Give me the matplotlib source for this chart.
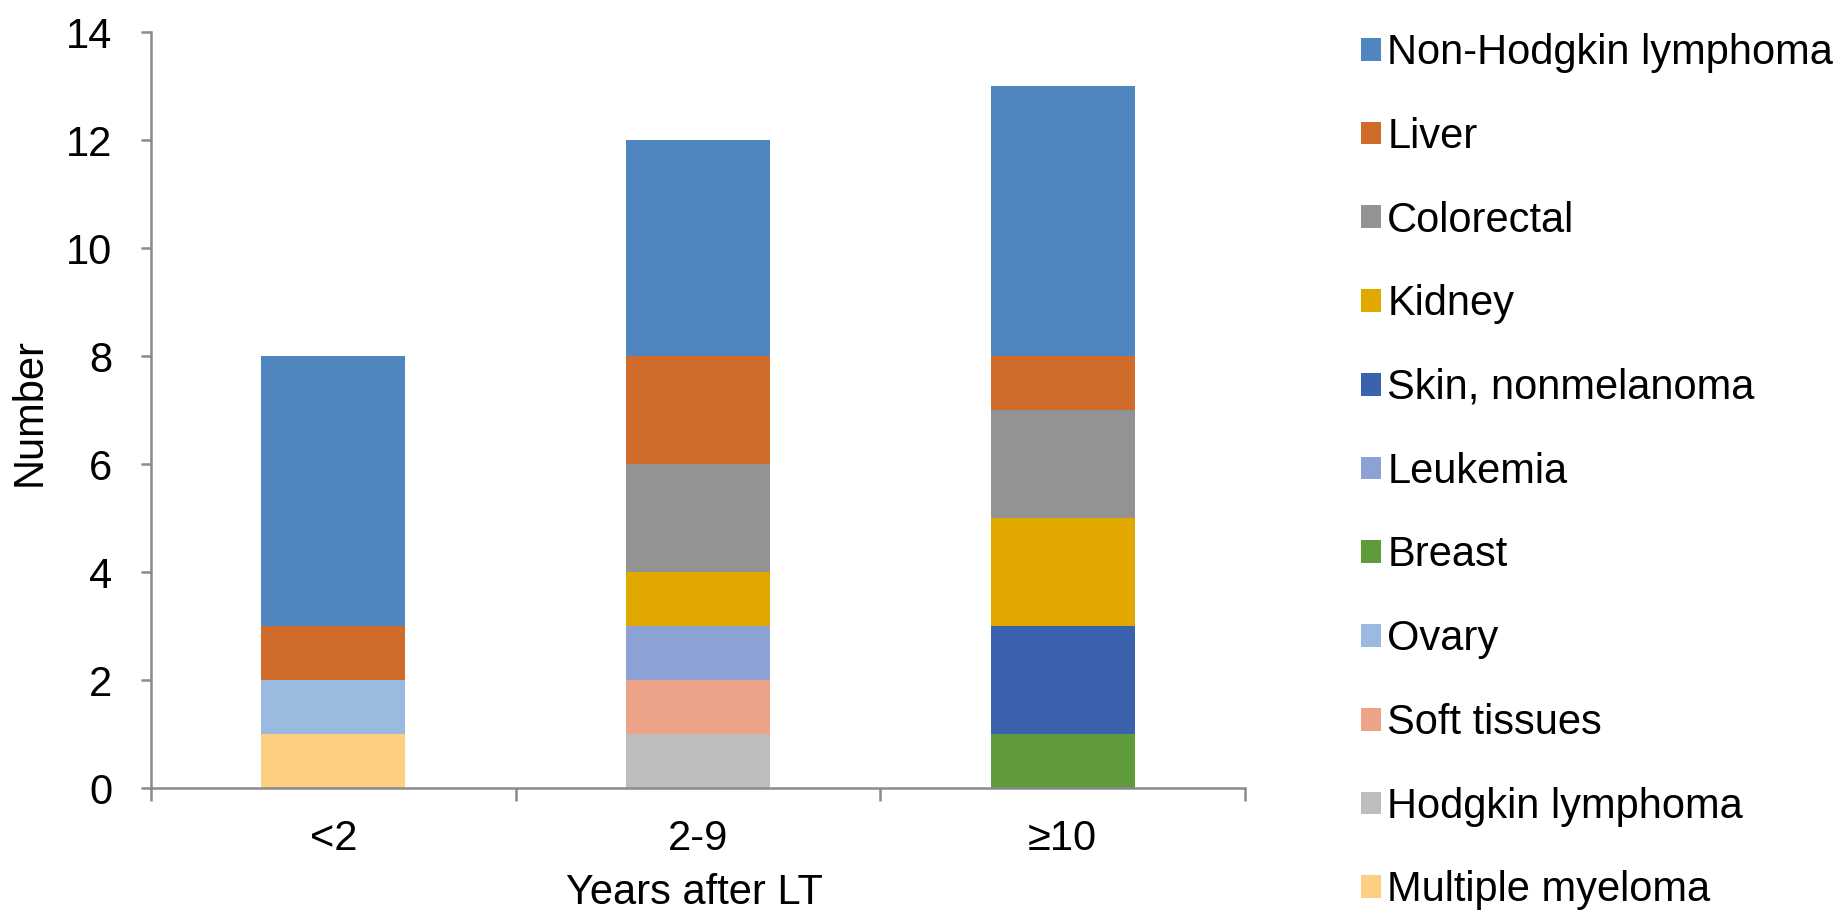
import matplotlib
matplotlib.use("Agg")
import matplotlib.pyplot as plt
from matplotlib.patches import Patch
from matplotlib.ticker import FixedLocator, NullFormatter
import numpy as np

plt.rcParams['font.family'] = ['Liberation Sans', 'DejaVu Sans']

# Time since liver transplantation
periods = ["<2", "2-9", "\u226510"]

# Cancer counts per period, listed from the bottom of each stack upwards
multiple_myeloma = [1, 0, 0]
hodgkin_lymphoma = [0, 1, 0]
soft_tissues = [0, 1, 0]
ovary = [1, 0, 0]
breast = [0, 0, 1]
leukemia = [0, 1, 0]
skin_nonmelanoma = [0, 0, 2]
kidney = [0, 1, 2]
colorectal = [0, 2, 2]
liver = [1, 2, 1]
non_hodgkin_lymphoma = [5, 4, 5]

series = [
    ("Multiple myeloma", multiple_myeloma, "#FCCF82"),
    ("Hodgkin lymphoma", hodgkin_lymphoma, "#BDBDBD"),
    ("Soft tissues", soft_tissues, "#EDA387"),
    ("Ovary", ovary, "#9ABADF"),
    ("Breast", breast, "#5F9B3B"),
    ("Leukemia", leukemia, "#8DA2D4"),
    ("Skin, nonmelanoma", skin_nonmelanoma, "#3B63AD"),
    ("Kidney", kidney, "#E1A900"),
    ("Colorectal", colorectal, "#939393"),
    ("Liver", liver, "#CF6B2B"),
    ("Non-Hodgkin lymphoma", non_hodgkin_lymphoma, "#4F86BF"),
]

W, H = 1847, 915
fig = plt.figure(figsize=(W / 100, H / 100), dpi=100)
ax = fig.add_axes([151 / W, (H - 788) / H, (1245 - 151) / W, (788 - 32) / H])

FS = 30
axis_grey = "#8A8A8A"

x = np.arange(len(periods))
bottom = np.zeros(len(periods))
for name, vals, col in series:
    vals = np.array(vals, dtype=float)
    ax.bar(x, vals, width=0.395, bottom=bottom, color=col, edgecolor="none", zorder=2)
    bottom += vals

ax.set_xlim(-0.5, 2.5)
ax.set_ylim(0, 14)
ax.set_yticks(np.arange(0, 15, 2))
ax.set_xticks(x)
ax.set_xticklabels(periods)
ax.xaxis.set_minor_locator(FixedLocator([-0.5, 0.5, 1.5, 2.5]))
ax.xaxis.set_minor_formatter(NullFormatter())

ax.tick_params(axis="x", which="major", length=0, pad=22.5, labelsize=FS)
ax.tick_params(axis="x", which="minor", length=9, width=1.8, color=axis_grey, direction="out")
ax.tick_params(axis="y", which="major", length=7, width=1.8, color=axis_grey,
               direction="out", pad=21, labelsize=FS)

for s in ("top", "right"):
    ax.spines[s].set_visible(False)
for s in ("left", "bottom"):
    ax.spines[s].set_color(axis_grey)
    ax.spines[s].set_linewidth(1.8)

fig.text(30 / W, 1 - 412 / H, "Number", rotation=90, ha="center", va="center", fontsize=FS)
fig.text(694 / W, 2 / H, "Years after LT", ha="center", va="bottom", fontsize=FS)

handles = [Patch(facecolor=col, edgecolor="none", label=name) for name, vals, col in reversed(series)]
fig.legend(handles=handles, loc="upper left", bbox_to_anchor=(1361 / W, 1 - 33 / H),
           frameon=False, fontsize=30, borderpad=0, borderaxespad=0,
           handlelength=0.48, handleheight=0.46, handletextpad=0.15, labelspacing=1.05)

fig.savefig("out.png", dpi=100, facecolor="white")
